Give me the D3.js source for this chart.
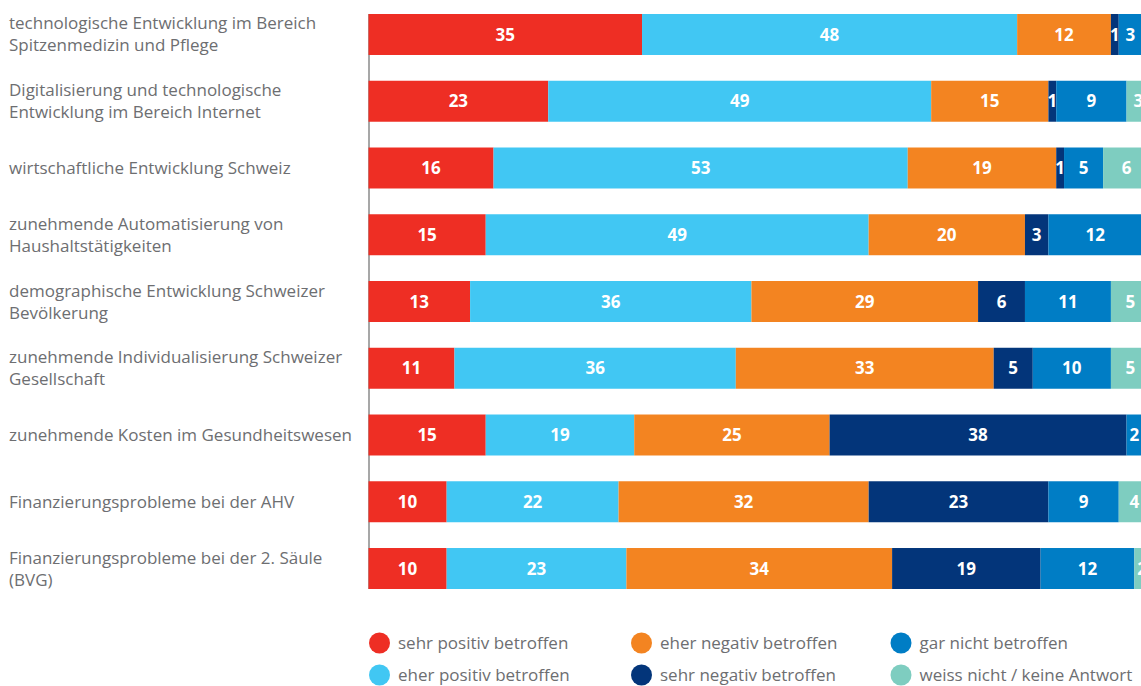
<!DOCTYPE html>
<html>
<head>
<meta charset="utf-8">
<script src="https://cdn.jsdelivr.net/npm/d3@7"></script>
<style>
  html, body { margin: 0; padding: 0; background: #fff; overflow: hidden; }
  svg { display: block; }
</style>
</head>
<body>
<script>
const categories = [
  ["technologische Entwicklung im Bereich", "Spitzenmedizin und Pflege"],
  ["Digitalisierung und technologische", "Entwicklung im Bereich Internet"],
  ["wirtschaftliche Entwicklung Schweiz"],
  ["zunehmende Automatisierung von", "Haushaltstätigkeiten"],
  ["demographische Entwicklung Schweizer", "Bevölkerung"],
  ["zunehmende Individualisierung Schweizer", "Gesellschaft"],
  ["zunehmende Kosten im Gesundheitswesen"],
  ["Finanzierungsprobleme bei der AHV"],
  ["Finanzierungsprobleme bei der 2. Säule", "(BVG)"]
];
const seriesNames = [
  "sehr positiv betroffen",
  "eher positiv betroffen",
  "eher negativ betroffen",
  "sehr negativ betroffen",
  "gar nicht betroffen",
  "weiss nicht / keine Antwort"
];
const sehrPositiv = [35, 23, 16, 15, 13, 11, 15, 10, 10];
const eherPositiv = [48, 49, 53, 49, 36, 36, 19, 22, 23];
const eherNegativ = [12, 15, 19, 20, 29, 33, 25, 32, 34];
const sehrNegativ = [1, 1, 1, 3, 6, 5, 38, 23, 19];
const garNicht    = [3, 9, 5, 12, 11, 10, 2, 9, 12];
const weissNicht  = [0, 3, 6, 0, 5, 5, 0, 4, 2];
const colors = ["#EE2E24", "#41C7F3", "#F38421", "#03357A", "#007DC5", "#7ECDC0"];

const W = 1141, H = 686;
const seriesValues = [sehrPositiv, eherPositiv, eherNegativ, sehrNegativ, garNicht, weissNicht];
const rows = categories.map((c, i) => {
  const o = { idx: i };
  seriesNames.forEach((s, k) => o[s] = seriesValues[k][i]);
  return o;
});
const stack = d3.stack().keys(seriesNames)(rows);

const svg = d3.select("body").append("svg").attr("width", W).attr("height", H);
const x = d3.scaleLinear().domain([0, 100]).range([368.5, 1150]);
const y = d3.scaleBand().domain(d3.range(categories.length)).range([14, 589]).paddingInner(0.386).paddingOuter(0);

const font = "'Open Sans', 'Noto Sans', sans-serif";
const textColor = "#6D6E71";

// axis line
svg.append("line")
  .attr("x1", 369).attr("x2", 369)
  .attr("y1", y(0)).attr("y2", y(categories.length - 1) + y.bandwidth())
  .attr("stroke", "#8a8a8a").attr("stroke-width", 1.5);

const layers = svg.selectAll("g.layer").data(stack).join("g")
  .attr("class", "layer").attr("fill", (d, i) => colors[i]);
layers.selectAll("rect").data(d => d.filter(s => s[1] > s[0])).join("rect")
  .attr("x", d => x(d[0]))
  .attr("y", d => y(d.data.idx))
  .attr("width", d => x(d[1]) - x(d[0]))
  .attr("height", y.bandwidth());

layers.selectAll("text").data(d => d.filter(s => s[1] > s[0])).join("text")
  .attr("x", d => (x(d[0]) + x(d[1])) / 2)
  .attr("y", d => y(d.data.idx) + y.bandwidth() / 2)
  .attr("dy", "0.36em")
  .attr("text-anchor", "middle")
  .attr("fill", "#fff")
  .attr("font-family", font)
  .attr("font-weight", 700)
  .attr("font-size", 17)
  .text(d => d[1] - d[0]);

// category labels
const lab = svg.append("g");
categories.forEach((lines, i) => {
  const cy = y(i) + y.bandwidth() / 2;
  const lh = 22;
  const t = lab.append("text")
    .attr("font-family", font).attr("font-size", 17).attr("fill", textColor);
  lines.forEach((ln, j) => {
    t.append("tspan")
      .attr("x", 9)
      .attr("y", cy + 6 + (j - (lines.length - 1) / 2) * lh)
      .text(ln);
  });
});

// legend
const legendPos = [
  [379.5, 643], [379.5, 675],
  [641.5, 643], [641.5, 675],
  [901, 643], [901, 675]
];
const leg = svg.append("g");
seriesNames.forEach((s, i) => {
  const [cx, cy] = legendPos[i];
  leg.append("circle").attr("cx", cx).attr("cy", cy).attr("r", 10.5).attr("fill", colors[i]);
  leg.append("text").attr("x", cx + 18.5).attr("y", cy + 6)
    .attr("font-family", font).attr("font-size", 17).attr("fill", textColor)
    .text(s);
});
</script>
</body>
</html>
